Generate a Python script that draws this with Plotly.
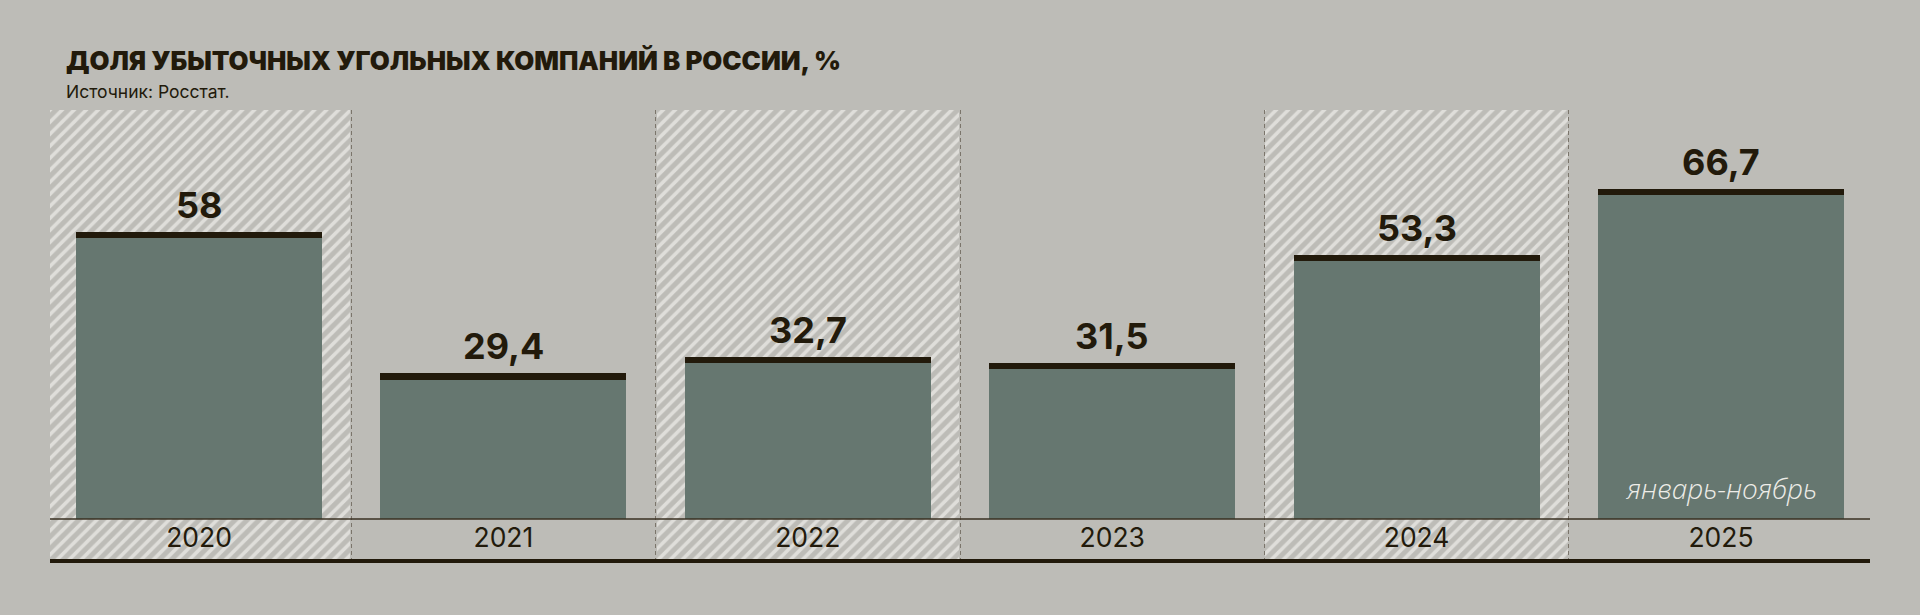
import plotly.graph_objects as go

# ---- data ----
years = ["2020", "2021", "2022", "2023", "2024", "2025"]
values = [58, 29.4, 32.7, 31.5, 53.3, 66.7]
value_labels = ["58", "29,4", "32,7", "31,5", "53,3", "66,7"]
hatched_years = ["2020", "2022", "2024"]
title_text = "ДОЛЯ УБЫТОЧНЫХ УГОЛЬНЫХ КОМПАНИЙ В РОССИИ, %"
source_text = "Источник: Росстат."
note_year = "2025"
note_text = "январь-ноябрь"

# ---- style ----
BG = "#bdbcb7"
BAR = "#667770"
DARK = "#221a0b"
HATCH = "#dfdeda"
Y_MIN, Y_MAX = -8.1, 82.6
X_PAD = 0.4895
CAP = 1.25
W, H = 1920, 615
ML, MR, MT, MB = 50, 50, 110, 56
PW, PH = W - ML - MR, H - MT - MB


def px_to_paper(px, py):
    return (px - ML) / PW, (H - MB - py) / PH


fig = go.Figure()

# hatched background panels
fig.add_trace(go.Bar(
    x=hatched_years, y=[Y_MAX - Y_MIN] * len(hatched_years), base=Y_MIN,
    width=0.994,
    marker=dict(color=BG, line=dict(width=0),
                pattern=dict(shape="/", fgcolor=HATCH, bgcolor=BG, size=8.5,
                             solidity=0.42, fillmode="replace")),
    hoverinfo="skip", showlegend=False,
))

# main bars
fig.add_trace(go.Bar(
    x=years, y=values, width=0.808,
    marker=dict(color=BAR, line=dict(width=0)),
    showlegend=False,
))

# dark caps on top of bars
fig.add_trace(go.Bar(
    x=years, y=[CAP] * len(values), base=[v - CAP for v in values], width=0.808,
    marker=dict(color=DARK, line=dict(width=0)),
    showlegend=False, hoverinfo="skip",
))

annotations = []
for i, (v, lab) in enumerate(zip(values, value_labels)):
    annotations.append(dict(
        x=i, y=v, xref="x", yref="y", text=lab, showarrow=False,
        yanchor="bottom", yshift=3,
        font=dict(family="Inter", size=36, color=DARK, weight=700),
    ))

annotations.append(dict(
    x=years.index(note_year), y=0, xref="x", yref="y", text=note_text, showarrow=False,
    yanchor="bottom", yshift=10,
    font=dict(family="Open Sans", size=28, color="#eeede8", style="italic", weight=300),
))

tx, ty = px_to_paper(63.5, 60.5)
annotations.append(dict(
    x=tx, y=ty, xref="paper", yref="paper", text=title_text,
    showarrow=False, xanchor="left", yanchor="middle",
    font=dict(family="Inter", size=25.8, color=DARK, weight=900),
))
sx, sy = px_to_paper(63.5, 91)
annotations.append(dict(
    x=sx, y=sy, xref="paper", yref="paper", text=source_text,
    showarrow=False, xanchor="left", yanchor="middle",
    font=dict(family="Inter", size=17.5, color=DARK),
))

fig.update_layout(
    width=W, height=H,
    paper_bgcolor=BG, plot_bgcolor=BG,
    margin=dict(l=ML, r=MR, t=MT, b=MB, pad=0),
    barmode="overlay",
    bargap=0,
    annotations=annotations,
    shapes=[dict(type="line", xref="paper", yref="y", x0=0, x1=1, y0=0, y1=0,
                 line=dict(color="#3a3122", width=1.5), layer="above")],
)

fig.update_xaxes(
    type="category", categoryorder="array", categoryarray=years,
    range=[-X_PAD, len(years) - 1 + X_PAD],
    tickson="boundaries", ticks="",
    showgrid=True, gridcolor="#7b756b", gridwidth=1, griddash="4px,3px",
    showline=True, linecolor=DARK, linewidth=4,
    ticklabelposition="inside", ticklabelstandoff=9,
    tickfont=dict(family="Inter", size=26.5, color=DARK, weight=400),
    zeroline=False,
)
fig.update_yaxes(
    range=[Y_MIN, Y_MAX], showgrid=False, showticklabels=False,
    zeroline=False, showline=False, ticks="",
)

fig.write_html("out.html", config={"displayModeBar": False})

# remove default page margin so the figure sits at the window origin
with open("out.html", "r", encoding="utf-8") as f:
    html = f.read()
html = html.replace("<head>", "<head><style>html,body{margin:0;padding:0;background:%s;}</style>" % BG, 1)
with open("out.html", "w", encoding="utf-8") as f:
    f.write(html)
